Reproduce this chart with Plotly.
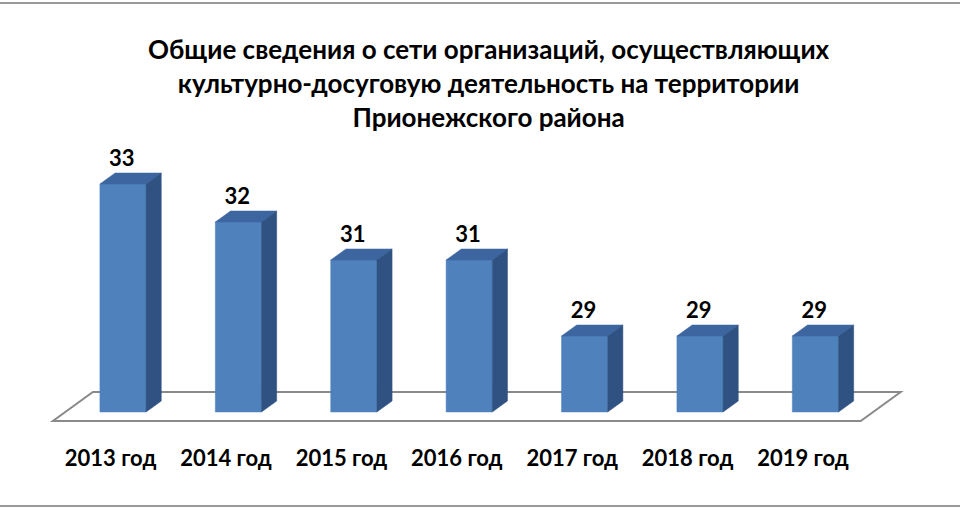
import plotly.graph_objects as go

# data
years = ["2013 год", "2014 год", "2015 год", "2016 год", "2017 год", "2018 год", "2019 год"]
counts = [33, 32, 31, 31, 29, 29, 29]
title_lines = [
    "Общие сведения о сети организаций, осуществляющих",
    "культурно-досуговую деятельность на территории",
    "Прионежского района",
]

######### PSEUDO 3D GEOMETRY #########

W, H = 960, 510
base = 27            # axis minimum
x_px = 115.4         # px per category
y_px = 38.0          # px per unit
x0_px = 110.6        # pixel of category 0 at floor front
y0_px = 421.0        # pixel of base value at floor front

dxu = 40 / x_px      # depth shift per unit depth, x
dyu = 29 / y_px      # depth shift per unit depth, y
d_front, d_back = 0.31, 0.69
half = 0.2

FRONT = "#4F81BD"
TOP = "#3D66A1"
SIDE = "#2F5282"
FONT = "Lato"

fig = go.Figure()

# floor (shape below the traces)
n = len(years)
fx = [-0.5, n - 0.5, n - 0.5 + dxu, -0.5 + dxu]
fy = [base, base, base + dyu, base + dyu]
path = "M " + " L ".join(f"{a},{b}" for a, b in zip(fx, fy)) + " Z"
fig.add_shape(type="path", path=path, xref="x", yref="y", layer="below",
              fillcolor="white", line=dict(color="#8a8a8a", width=2))

# bar faces
sx = (d_back - d_front) * dxu
for i, v in enumerate(counts):
    xl = i - half + d_front * dxu
    xr = i + half + d_front * dxu
    yf = v + d_front * dyu
    yb = v + d_back * dyu
    y_bf = base + d_front * dyu
    y_bb = base + d_back * dyu
    # front
    fig.add_trace(go.Scatter(
        x=[xl, xr, xr, xl, xl], y=[y_bf, y_bf, yf, yf, y_bf],
        mode="lines", fill="toself", fillcolor=FRONT, line=dict(width=0.5, color=FRONT),
        hoverinfo="skip"))
    # top
    fig.add_trace(go.Scatter(
        x=[xl, xl + sx, xr + sx, xr, xl], y=[yf, yb, yb, yf, yf],
        mode="lines", fill="toself", fillcolor=TOP, line=dict(width=0.5, color=TOP),
        hoverinfo="skip"))
    # side
    fig.add_trace(go.Scatter(
        x=[xr, xr + sx, xr + sx, xr, xr], y=[yf, yb, y_bb, y_bf, yf],
        mode="lines", fill="toself", fillcolor=SIDE, line=dict(width=0.5, color=SIDE),
        hoverinfo="skip"))

# value labels
fig.add_trace(go.Scatter(
    x=[i + d_front * dxu - 0.01 for i in range(n)],
    y=[v + d_back * dyu + 0.05 for v in counts],
    mode="text", text=[str(v) for v in counts], textposition="top center",
    textfont=dict(family=FONT, size=22, color="black", weight="bold"),
    hoverinfo="skip"))

# category labels
fig.add_trace(go.Scatter(
    x=list(range(n)), y=[base - 39 / y_px] * n,
    mode="text", text=years, textposition="middle center",
    textfont=dict(family=FONT, size=22, color="black", weight="bold"),
    hoverinfo="skip"))

fig.add_annotation(
    x=489 / W, y=1 - 31 / H, xref="paper", yref="paper", xanchor="center", yanchor="top",
    text="<br>".join(title_lines), showarrow=False, align="center",
    font=dict(family=FONT, size=26, color="black", weight="bold"))

# outer frame lines
for yy in [1 - 3 / H, 1 - 506 / H]:
    fig.add_shape(type="line", xref="paper", yref="paper", x0=0, x1=1, y0=yy, y1=yy,
                  line=dict(color="#9a9a9a", width=2))

fig.update_layout(
    width=W, height=H, margin=dict(l=0, r=0, t=0, b=0),
    paper_bgcolor="white", plot_bgcolor="white", showlegend=False,
    xaxis=dict(range=[-x0_px / x_px, (W - x0_px) / x_px], visible=False, fixedrange=True),
    yaxis=dict(range=[base - (H - y0_px) / y_px, base + y0_px / y_px], visible=False, fixedrange=True),
)

fig.write_html("out.html", config={"displayModeBar": False},
               post_script="document.body.style.margin='0';")
